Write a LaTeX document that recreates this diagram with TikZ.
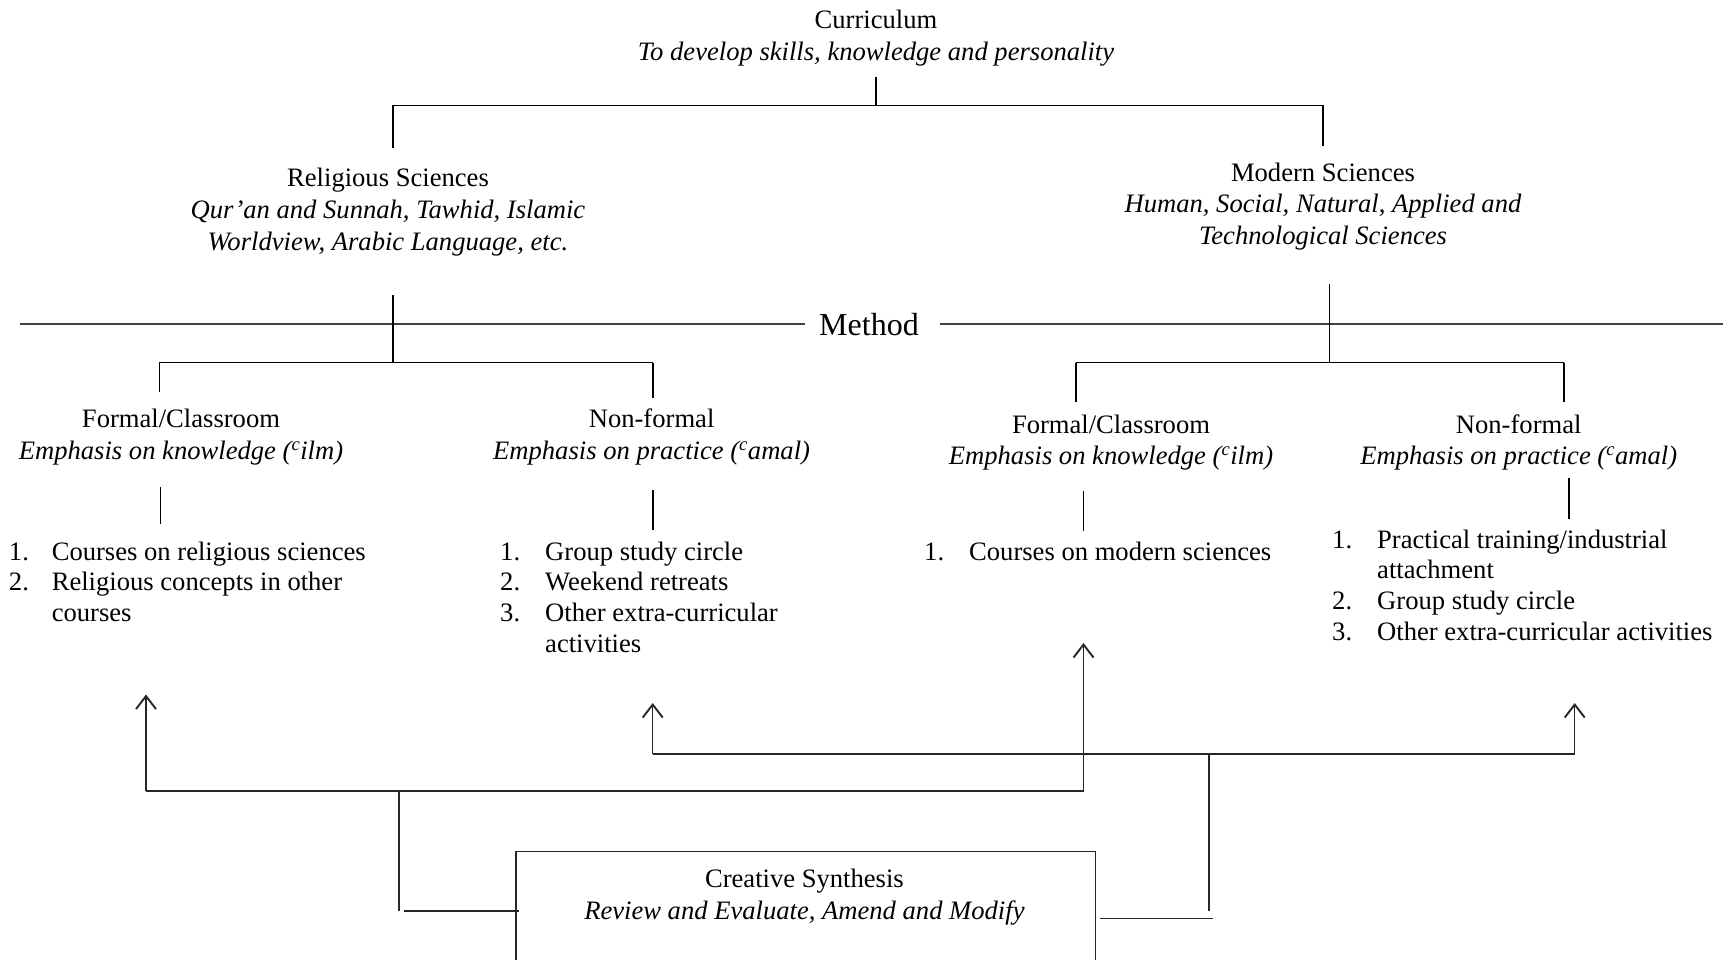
\documentclass[tikz,border=0pt]{standalone}
\usepackage{fontspec}
\setmainfont{Liberation Serif}
\usetikzlibrary{arrows.meta}
\begin{document}
\begin{tikzpicture}[x=1pt,y=-1pt,
  txt/.style={inner sep=0pt, anchor=base, font=\fontsize{26.6}{31.5}\selectfont},
  lst/.style={inner sep=0pt, anchor=base west, font=\fontsize{26.6}{30.8}\selectfont},
  tree/.style={line width=1.6pt, black},
  mline/.style={line width=1.1pt, black!75},
  conn/.style={line width=1.4pt, black!85},
  tip/.style={-{Straight Barb[length=13pt,width=20pt,line width=1.9pt]}},
]
\useasboundingbox (0,0) rectangle (1723,960);
\clip (0,0) rectangle (1723,960);

% ---------- text nodes ----------
\node[txt] (cur) at (876,28.7) {\begin{tabular}[t]{@{}c@{}}Curriculum\\\textit{To develop skills, knowledge and personality}\end{tabular}};
\node[txt] (rel) at (388,187) {\begin{tabular}[t]{@{}c@{}}Religious Sciences\\\textit{Qur’an and Sunnah, Tawhid, Islamic}\\\textit{Worldview, Arabic Language, etc.}\end{tabular}};
\node[txt] (mod) at (1323,181.4) {\begin{tabular}[t]{@{}c@{}}Modern Sciences\\\textit{Human, Social, Natural, Applied and}\\\textit{Technological Sciences}\end{tabular}};
\node[inner sep=0pt, anchor=base, font=\fontsize{32}{38}\selectfont] (method) at (869,335) {Method};

\node[txt] (lf) at (181,427.6) {\begin{tabular}[t]{@{}c@{}}Formal/Classroom\\\textit{Emphasis on knowledge (\textsuperscript{c}ilm)}\end{tabular}};
\node[txt] (lnf) at (651.6,427.6) {\begin{tabular}[t]{@{}c@{}}Non-formal\\\textit{Emphasis on practice (\textsuperscript{c}amal)}\end{tabular}};
\node[txt] (rf) at (1111,433) {\begin{tabular}[t]{@{}c@{}}Formal/Classroom\\\textit{Emphasis on knowledge (\textsuperscript{c}ilm)}\end{tabular}};
\node[txt] (rnf) at (1518.7,433) {\begin{tabular}[t]{@{}c@{}}Non-formal\\\textit{Emphasis on practice (\textsuperscript{c}amal)}\end{tabular}};

\node[lst] (lfl) at (8.8,560) {\begin{tabular}[t]{@{}p{42.8pt}@{}l@{}}1. & Courses on religious sciences\\2. & Religious concepts in other\\ & courses\end{tabular}};
\node[lst] (lnfl) at (500,560) {\begin{tabular}[t]{@{}p{45pt}@{}l@{}}1. & Group study circle\\2. & Weekend retreats\\3. & Other extra-curricular\\ & activities\end{tabular}};
\node[lst] (rfl) at (924,560) {\begin{tabular}[t]{@{}p{45pt}@{}l@{}}1. & Courses on modern sciences\end{tabular}};
\node[lst] (rnfl) at (1332,548) {\begin{tabular}[t]{@{}p{45pt}@{}l@{}}1. & Practical training/industrial\\ & attachment\\2. & Group study circle\\3. & Other extra-curricular activities\end{tabular}};

\node[conn, draw, fill=none, minimum width=579.1pt, minimum height=160pt, inner sep=0pt, anchor=north west] (box) at (515.4,850.5) {};
\node[txt] (cs) at (804.4,887.5) {\begin{tabular}[t]{@{}c@{}}Creative Synthesis\\\textit{Review and Evaluate, Amend and Modify}\end{tabular}};

% ---------- top tree ----------
\coordinate (t0) at (876,77);
\coordinate (t1) at (876,105.5);
\coordinate (tl) at (393,105.5);
\coordinate (tr) at (1323,105.5);
\draw[tree] (t0) -- (t1);
\draw[tree] (tl) -- (tr);
\draw[tree] (tl) -- (393,148);
\draw[tree] (tr) -- (1323,146);

% ---------- method line ----------
\coordinate (ml) at (20,324);
\coordinate (mlm) at (805,324);
\coordinate (mrm) at (940,324);
\coordinate (mr) at (1723,324);
\draw[mline] (ml) -- (mlm);
\draw[mline] (mrm) -- (mr);

% ---------- left method tree ----------
\coordinate (l0) at (393,294.5);
\coordinate (l1) at (393,362.6);
\coordinate (la) at (159.3,362.6);
\coordinate (lb) at (652.7,362.6);
\draw[tree] (l0) -- (l1);
\draw[tree] (la) -- (lb);
\draw[tree] (la) -- (159.3,392);
\draw[tree] (lb) -- (652.7,398);

% ---------- right method tree ----------
\coordinate (r0) at (1329.6,283.5);
\coordinate (r1) at (1329.6,362.6);
\coordinate (ra) at (1075.8,362.6);
\coordinate (rb) at (1563.7,362.6);
\draw[tree] (r0) -- (r1);
\draw[tree] (ra) -- (rb);
\draw[tree] (ra) -- (1075.8,402);
\draw[tree] (rb) -- (1563.7,402);

% ---------- stubs to lists ----------
\draw[tree] (160.4,486.8) -- (160.4,524);
\draw[tree] (652.7,490) -- (652.7,530);
\draw[tree] (1083.5,491) -- (1083.5,531);
\draw[tree] (1569,478) -- (1569,518.7);

% ---------- bottom connectors ----------
\coordinate (a1) at (146,694.5);
\coordinate (a1b) at (146,791);
\coordinate (a2b) at (1083.5,791);
\coordinate (a2) at (1083.5,643);
\draw[conn, tip] (a1b) -- (a1);
\draw[conn, tip] (a1b) -- (a2b) -- (a2);
\coordinate (lv0) at (399,791);
\coordinate (lv1) at (399,911);
\draw[conn] (lv0) -- (lv1);
\draw[conn] (404,911) -- (518.7,911);

\coordinate (b1) at (652.7,703);
\coordinate (b1b) at (652.7,753.8);
\coordinate (b2b) at (1574.7,753.8);
\coordinate (b2) at (1574.7,703);
\draw[conn, tip] (b1b) -- (b1);
\draw[conn, tip] (b1b) -- (b2b) -- (b2);
\coordinate (rv0) at (1208.8,753.8);
\coordinate (rv1) at (1208.8,911);
\draw[conn] (rv0) -- (rv1);
\draw[conn] (1100,918.7) -- (1213,918.7);
\end{tikzpicture}
\end{document}
